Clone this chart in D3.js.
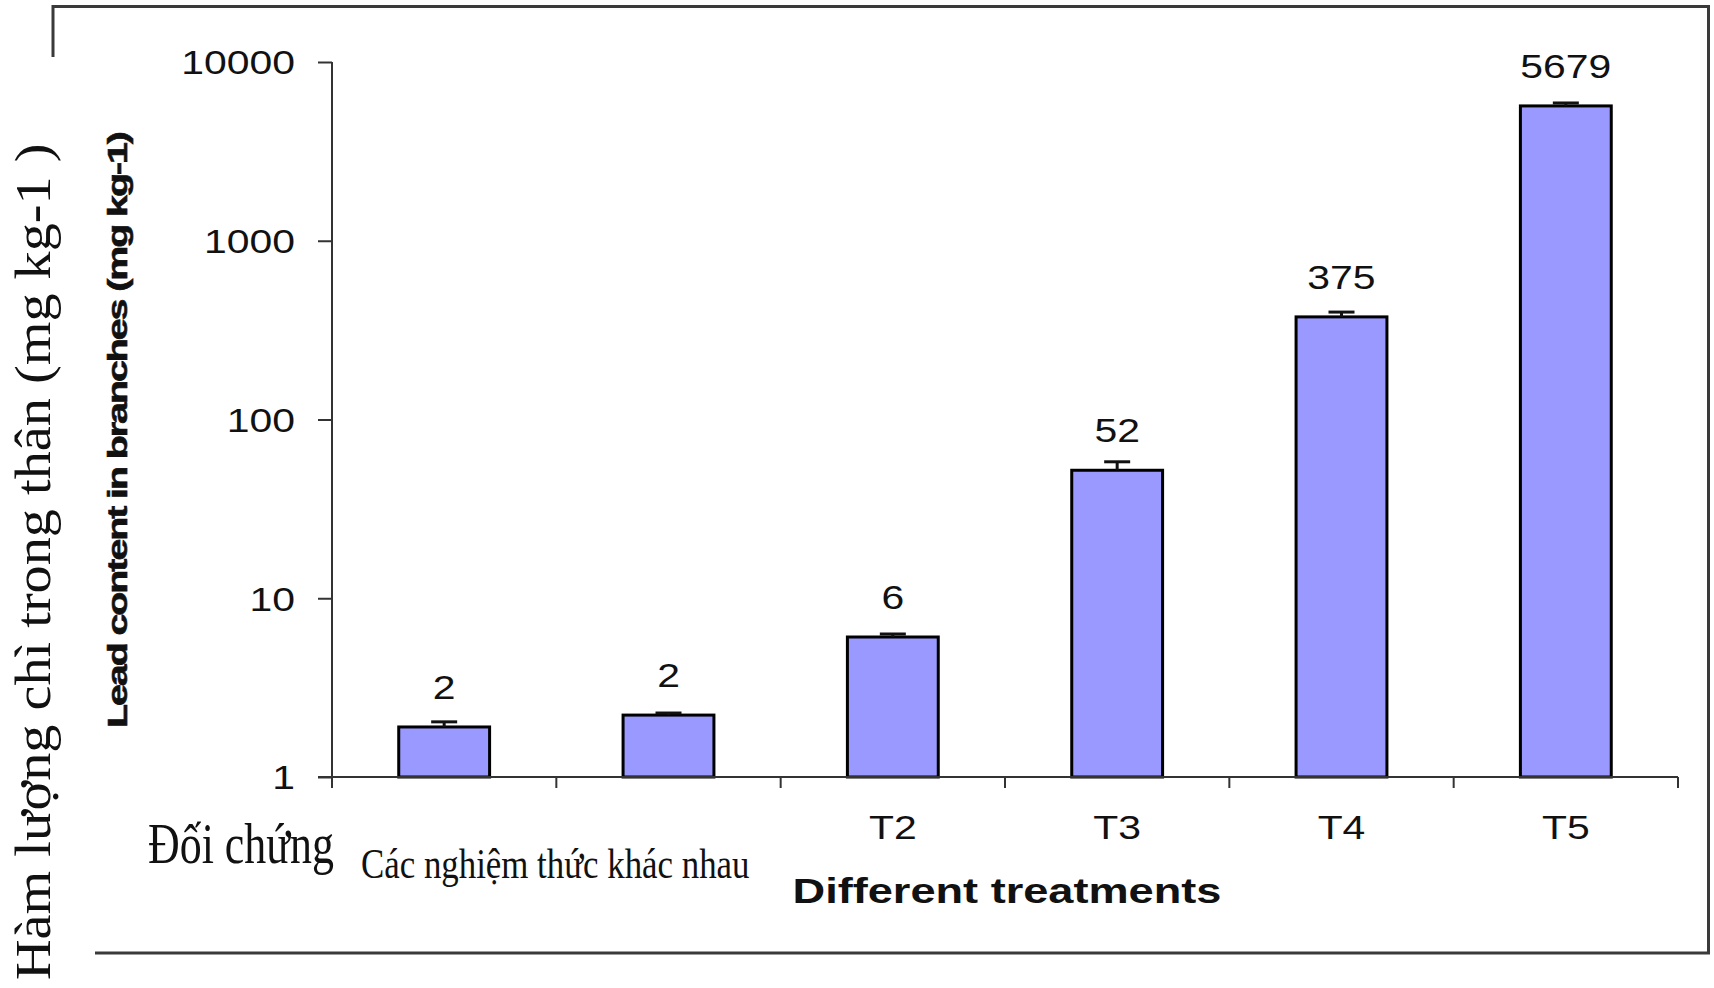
<!DOCTYPE html>
<html>
<head>
<meta charset="utf-8">
<script src="https://cdn.jsdelivr.net/npm/d3@7"></script>
<style>
  html, body { margin: 0; padding: 0; background: #fff; }
  svg { display: block; }
</style>
</head>
<body>
<svg id="chart" width="1714" height="988"></svg>
<script>
// Lead content in branches per treatment (mg kg-1), log scale
const categories = ["Control", "T1", "T2", "T3", "T4", "T5"];
const tickLabels = ["", "", "T2", "T3", "T4", "T5"];
const leadContent = [1.905, 2.22, 6.07, 52, 375, 5679];
const stdError = [0.13, 0.06, 0.24, 6, 24, 220];
const yTickValues = [1, 10, 100, 1000, 10000];
const xTitle = "Different treatments";
const yTitle = "Lead content in branches (mg kg-1)";
const yTitleVi = "Hàm lượng chì trong thân (mg kg-1 )";
const controlLabelVi = "Đối chứng";
const xTitleVi = "Các nghiệm thức khác nhau";

const svg = d3.select("#chart");
const SANS = "'Liberation Sans', Arial, sans-serif";
const SERIF = "'Liberation Serif', 'Times New Roman', serif";
const STRETCH = 1.24; // glyphs of the chart text are drawn wide

const plot = { left: 332, right: 1678, top: 62, bottom: 777 };

const x = d3.scaleBand().domain(categories).range([plot.left, plot.right]).padding(0);
const y = d3.scaleLog().domain([1, 10000]).range([plot.bottom, plot.top]);
const barW = x.bandwidth() * 0.405;

// outer frame
const frame = svg.append("g").attr("fill", "none").attr("stroke", "#3a3a3a").attr("stroke-width", 3);
frame.append("path").attr("d", "M53,57 V6.5 H1708.5 V953 H95");

// bars
svg.append("g").selectAll("rect")
  .data(categories)
  .join("rect")
  .attr("x", d => x(d) + (x.bandwidth() - barW) / 2)
  .attr("width", barW)
  .attr("y", (d, i) => y(leadContent[i]))
  .attr("height", (d, i) => y(1) - y(leadContent[i]))
  .attr("fill", "#9999ff")
  .attr("stroke", "#000")
  .attr("stroke-width", 3);

// error bars (upper half)
const eb = svg.append("g").attr("stroke", "#111").attr("stroke-width", 3);
categories.forEach((c, i) => {
  const cx = x(c) + x.bandwidth() / 2;
  const top = y(leadContent[i] + stdError[i]);
  eb.append("line").attr("x1", cx).attr("x2", cx).attr("y1", y(leadContent[i])).attr("y2", top);
  eb.append("line").attr("x1", cx - 13).attr("x2", cx + 13).attr("y1", top).attr("y2", top);
});

// value labels
const fmt = d3.format(".0f");
svg.append("g").selectAll("text")
  .data(categories)
  .join("text")
  .attr("transform", (d, i) => `translate(${x(d) + x.bandwidth() / 2},${y(leadContent[i]) - 28}) scale(${STRETCH},1)`)
  .attr("text-anchor", "middle")
  .attr("font-family", SANS)
  .attr("font-size", 33)
  .attr("fill", "#111")
  .text((d, i) => fmt(leadContent[i]));

// y axis
const yAxis = svg.append("g")
  .attr("transform", `translate(${plot.left},0)`)
  .call(d3.axisLeft(y).tickValues(yTickValues).tickSize(14).tickSizeOuter(0).tickFormat(d3.format("d")));
yAxis.select(".domain").attr("stroke", "#333").attr("stroke-width", 2)
  .attr("d", `M0,${plot.top}V${plot.bottom + 11}`);
yAxis.selectAll(".tick line").attr("stroke", "#333").attr("stroke-width", 2);
yAxis.selectAll(".tick text")
  .attr("x", null).attr("dy", "0.36em")
  .attr("transform", `translate(-37,0) scale(${STRETCH},1)`)
  .attr("font-family", SANS).attr("font-size", 33).attr("fill", "#111");

// x axis: labels at band centres, ticks at band boundaries
const xAxis = svg.append("g")
  .attr("transform", `translate(0,${plot.bottom})`)
  .call(d3.axisBottom(x).tickSize(0).tickPadding(0).tickFormat((d, i) => tickLabels[i]));
xAxis.select(".domain").attr("stroke", "#333").attr("stroke-width", 2)
  .attr("d", `M${plot.left - 14},0H${plot.right}`);
xAxis.selectAll(".tick text")
  .attr("y", null).attr("dy", null)
  .attr("transform", `translate(0,62) scale(${STRETCH},1)`)
  .attr("font-family", SANS).attr("font-size", 33).attr("fill", "#111");
const bounds = categories.map(c => x(c)).concat([x.range()[1]]);
xAxis.selectAll(".bound")
  .data(bounds)
  .join("line")
  .attr("class", "bound")
  .attr("x1", d => d).attr("x2", d => d)
  .attr("y1", 0).attr("y2", 11)
  .attr("stroke", "#333").attr("stroke-width", 2);

// axis titles
svg.append("text")
  .attr("transform", `translate(1007,903) scale(1.29,1)`)
  .attr("text-anchor", "middle")
  .attr("font-family", SANS).attr("font-weight", "bold").attr("font-size", 35).attr("fill", "#111")
  .text(xTitle);

svg.append("text")
  .attr("transform", `translate(127,728) rotate(-90) scale(1.41,1)`)
  .attr("text-anchor", "start")
  .attr("font-family", SANS).attr("font-weight", "bold").attr("font-size", 28)
  .attr("letter-spacing", -1.5).attr("fill", "#111")
  .attr("stroke", "#111").attr("stroke-width", 0.6)
  .text(yTitle);

// Vietnamese titles
svg.append("text")
  .attr("transform", `translate(50,980) rotate(-90) scale(1.125,1)`)
  .attr("font-family", SERIF).attr("font-size", 50).attr("fill", "#111")
  .text(yTitleVi);

svg.append("text")
  .attr("transform", `translate(148,863) scale(0.77,1)`)
  .attr("font-family", SERIF).attr("font-size", 57).attr("fill", "#111")
  .text(controlLabelVi);

svg.append("text")
  .attr("transform", `translate(361,878) scale(0.83,1)`)
  .attr("font-family", SERIF).attr("font-size", 42).attr("fill", "#111")
  .text(xTitleVi);
</script>
</body>
</html>
